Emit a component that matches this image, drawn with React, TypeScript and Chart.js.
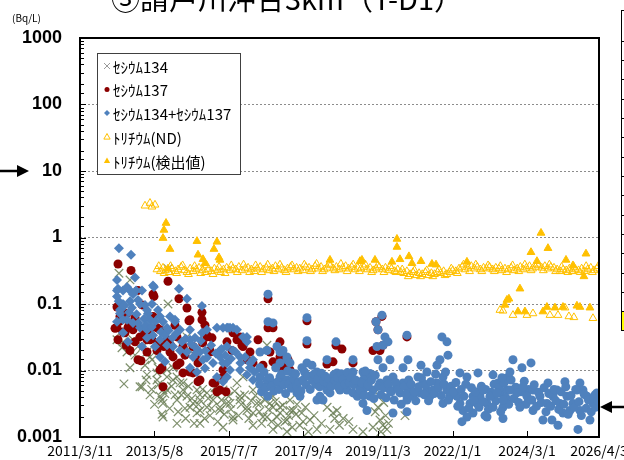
import React, { useEffect, useRef } from 'react';
import { Chart, registerables } from 'chart.js';

Chart.register(...registerables);

const titleText = '③請戸川沖合3km（T-D1）';
const unitText = '(Bq/L)';
const seriesLabels = ['ｾｼｳﾑ134', 'ｾｼｳﾑ137', 'ｾｼｳﾑ134+ｾｼｳﾑ137', 'ﾄﾘﾁｳﾑ(ND)', 'ﾄﾘﾁｳﾑ(検出値)'];

// x = days since 2011/3/11
const xTickDays = [0, 789, 1579, 2369, 3159, 3949, 4739, 5502];
const xTickLabels = ['2011/3/11', '2013/5/8', '2015/7/7', '2017/9/4', '2019/11/3', '2022/1/1', '2024/3/1', '2026/4/3'];
const yTickValues = [0.001, 0.01, 0.1, 1, 10, 100, 1000];
const yTickLabels = ['0.001', '0.01', '0.1', '1', '10', '100', '1000'];

const cs134Points: [number, number][] = [
  [413, 0.29], [530, 0.23], [933, 0.34], [933, 0.1], [392, 0.029], [445, 0.022], [498, 0.019], [530, 0.011],
  [636, 0.0057], [710, 0.0086], [880, 0.002], [869, 0.0036], [880, 0.0051], [816, 0.0072], [1060, 0.0065],
  [1092, 0.0051], [1134, 0.0041], [1198, 0.0032], [1272, 0.0025], [1346, 0.0046], [1410, 0.0036], [1484, 0.0028],
  [1558, 0.0032], [1113, 0.0027], [1240, 0.0051], [1028, 0.008], [424, 0.037], [456, 0.027], [562, 0.029],
  [615, 0.023], [710, 0.019], [763, 0.0145], [827, 0.011], [922, 0.0102], [986, 0.011], [1134, 0.032],
  [1166, 0.02], [466, 0.0063], [869, 0.0022], [1516, 0.0051], [1590, 0.0032], [1664, 0.0065], [1696, 0.0041],
  [1770, 0.0025], [1834, 0.0051], [1876, 0.0032], [1940, 0.002], [2014, 0.0032], [2046, 0.0041], [2088, 0.002],
  [2120, 0.0028], [2173, 0.0017], [2226, 0.0025], [1982, 0.024], [1834, 0.0015], [1622, 0.0018], [2364, 0.0017],
  [2438, 0.0018], [2724, 0.0025], [2650, 0.0013], [2894, 0.0013], [2512, 0.0013], [1728, 0.008], [3180, 0.0046],
  [3159, 0.0028], [3106, 0.0014], [3212, 0.0015], [3254, 0.0013], [3180, 0.0018], [583, 0.017], [689, 0.012],
  [742, 0.0043], [1272, 0.0043], [1378, 0.0021], [1431, 0.0055], [1007, 0.0043],
  [657, 0.0057], [848, 0.0041], [880, 0.0032], [922, 0.0051], [1028, 0.0036], [1166, 0.0028], [1240, 0.0023],
  [1272, 0.0036], [1346, 0.0028], [1484, 0.0025], [1622, 0.002], [1696, 0.0036], [1770, 0.0028], [1834, 0.0023],
  [1908, 0.0032], [1982, 0.002], [2046, 0.0028], [2120, 0.0023], [2194, 0.0018], [2258, 0.0025], [922, 0.008],
  [986, 0.0072], [1092, 0.0065], [1028, 0.0016], [1272, 0.0016], [1516, 0.0014], [2046, 0.0013], [2194, 0.0012],
  [668, 0.023], [742, 0.016], [816, 0.0092], [2226, 0.0036], [2290, 0.0022], [2330, 0.0015], [2390, 0.0028],
  [2682, 0.0023], [2750, 0.0015], [2790, 0.0019], [3159, 0.0043], [3220, 0.0033], [3270, 0.0016], [3240, 0.0021],
  [3445, 0.0021],
  [700, 0.0072], [760, 0.0052], [790, 0.0031], [830, 0.0061], [900, 0.0045], [950, 0.0027], [970, 0.0058],
  [1040, 0.0024], [1075, 0.0043], [1120, 0.0019], [1150, 0.0058], [1185, 0.0038], [1210, 0.0016], [1255, 0.0031],
  [1300, 0.0052], [1320, 0.0019], [1360, 0.0038], [1395, 0.0027], [1440, 0.0044], [1460, 0.0017], [1500, 0.0036],
  [1530, 0.0022], [1575, 0.0041], [1600, 0.0026], [1640, 0.0049], [1680, 0.0021], [1710, 0.0031], [1745, 0.0043],
  [1790, 0.0019], [1815, 0.0035], [1860, 0.0042], [1900, 0.0024], [1925, 0.0016], [1960, 0.0036], [2000, 0.0026],
  [2030, 0.0017], [2070, 0.0034], [2100, 0.0015], [2150, 0.003], [2210, 0.0021], [2250, 0.0014], [2300, 0.0031],
  [2350, 0.0023], [2420, 0.0012], [2480, 0.0021], [2560, 0.0016], [2620, 0.0028], [2700, 0.0019], [2850, 0.0017],
  [3000, 0.0012], [3130, 0.0024], [3190, 0.0012],
];

const cs137Points: [number, number][] = [
  [403, 0.4], [541, 0.32], [933, 0.22], [784, 0.13], [1049, 0.12], [1134, 0.087], [1155, 0.056], [1293, 0.075],
  [392, 0.09], [392, 0.044], [424, 0.065], [477, 0.037], [530, 0.052], [562, 0.041], [636, 0.032], [710, 0.029],
  [530, 0.02], [647, 0.014], [710, 0.019], [774, 0.065], [816, 0.044], [848, 0.0102], [880, 0.0057], [954, 0.019],
  [986, 0.016], [1060, 0.013], [1166, 0.0095], [1251, 0.0068], [1251, 0.013], [1346, 0.034], [1399, 0.031],
  [1431, 0.0065], [1516, 0.0102], [1558, 0.027], [1548, 0.0048], [922, 0.029], [1028, 0.032], [1092, 0.023],
  [1198, 0.023], [445, 0.081], [498, 0.072], [583, 0.062], [657, 0.097], [615, 0.16], [1993, 0.12], [1993, 0.044],
  [2046, 0.044], [2406, 0.056], [2406, 0.025], [2714, 0.024], [2777, 0.021], [2618, 0.0125], [2894, 0.013],
  [2682, 0.0135], [1622, 0.041], [1696, 0.032], [1717, 0.024], [1802, 0.019], [1834, 0.013], [1516, 0.008],
  [1484, 0.0051], [1940, 0.012], [2120, 0.027], [2120, 0.016], [2205, 0.0145], [2152, 0.0102], [2014, 0.019],
  [2226, 0.0102], [2120, 0.0065], [3201, 0.065], [3138, 0.054], [3159, 0.041], [3212, 0.024], [3106, 0.02],
  [3180, 0.02], [3466, 0.032], [488, 0.024], [403, 0.029], [583, 0.027], [742, 0.041], [848, 0.041], [890, 0.023],
  [1007, 0.048], [1113, 0.017], [1325, 0.048], [1378, 0.019], [1611, 0.02], [1887, 0.029],
  [774, 0.14], [1166, 0.058], [1293, 0.058], [371, 0.043], [456, 0.038], [562, 0.043], [615, 0.0145], [742, 0.029],
  [816, 0.02], [869, 0.011], [1028, 0.012], [1092, 0.0092], [1198, 0.0092], [1272, 0.0072], [1410, 0.0065],
  [1452, 0.0048], [1346, 0.032], [1378, 0.02], [1622, 0.037], [1664, 0.029], [1728, 0.023], [1770, 0.0145],
  [2046, 0.0135], [2141, 0.019], [2173, 0.013], [420, 0.055], [470, 0.06], [510, 0.045], [600, 0.05], [680, 0.035],
  [760, 0.03], [830, 0.026], [960, 0.024], [1100, 0.02], [1230, 0.017], [1300, 0.026],
];

const sumPoints: [number, number][] = [
  [413, 0.69], [541, 0.55], [392, 0.23], [403, 0.17], [456, 0.16], [583, 0.25], [530, 0.16], [594, 0.16],
  [657, 0.16], [784, 0.18], [1049, 0.17], [1134, 0.12], [1293, 0.093], [392, 0.13], [456, 0.1], [530, 0.11],
  [615, 0.115], [689, 0.097], [721, 0.072], [763, 0.1], [827, 0.081], [880, 0.054], [954, 0.065], [1007, 0.054],
  [1060, 0.041], [1166, 0.041], [1219, 0.031], [1293, 0.037], [1346, 0.041], [1452, 0.044], [1558, 0.044],
  [424, 0.072], [498, 0.058], [562, 0.052], [636, 0.044], [710, 0.041], [774, 0.034], [848, 0.029], [922, 0.024],
  [986, 0.023], [1060, 0.02], [1134, 0.019], [1198, 0.016], [1272, 0.019], [1346, 0.0155], [1410, 0.013],
  [1484, 0.016], [1558, 0.013], [795, 0.023], [848, 0.016], [901, 0.0135], [1166, 0.011], [1240, 0.0095],
  [1325, 0.0108], [1452, 0.008], [1516, 0.0068], [1558, 0.008], [456, 0.037], [392, 0.054], [509, 0.027],
  [657, 0.023], [710, 0.031],
  [392, 0.16], [498, 0.18], [562, 0.14], [774, 0.19], [636, 0.1], [710, 0.081], [424, 0.081], [456, 0.058],
  [742, 0.058], [848, 0.065], [922, 0.044], [1007, 0.058], [1166, 0.029], [1569, 0.044], [1622, 0.044],
  [1770, 0.032], [1240, 0.019], [1304, 0.0145], [1484, 0.02], [1834, 0.0145], [1908, 0.011], [2120, 0.019],
  [2194, 0.0145], [1982, 0.0057], [2120, 0.0065], [2258, 0.0057], [2300, 0.0046],
  [410, 0.11], [440, 0.085], [470, 0.095], [520, 0.075], [550, 0.088], [600, 0.07], [620, 0.052], [680, 0.06],
  [700, 0.048], [760, 0.045], [800, 0.055], [860, 0.038], [900, 0.034], [940, 0.04], [980, 0.031], [1020, 0.036],
  [1080, 0.027], [1120, 0.03], [1180, 0.025], [1230, 0.022], [1280, 0.028], [1330, 0.02], [1390, 0.024],
  [1440, 0.018], [1500, 0.021], [1540, 0.017], [1600, 0.015], [1650, 0.019], [1700, 0.013], [1750, 0.016],
  [1800, 0.011], [1850, 0.0095],
  [1993, 0.14], [1993, 0.054], [2046, 0.052], [2406, 0.062], [2406, 0.028], [2714, 0.027], [2618, 0.0145],
  [2894, 0.0145], [1516, 0.044], [1590, 0.044], [1664, 0.041], [1728, 0.032], [1770, 0.027], [1558, 0.023],
  [1622, 0.02], [1696, 0.016], [1802, 0.013], [1516, 0.013], [1590, 0.0102], [1696, 0.0102], [1770, 0.0086],
  [1834, 0.0072], [1908, 0.008], [1982, 0.0072], [2046, 0.0065], [2120, 0.008], [2194, 0.0072], [1908, 0.019],
  [1982, 0.02], [2088, 0.023], [2152, 0.02], [2194, 0.016], [2120, 0.013], [2226, 0.013], [2247, 0.0092],
  [2279, 0.0065], [2311, 0.0051], [2332, 0.0041], [2353, 0.011], [2406, 0.013], [2459, 0.012], [2512, 0.0095],
  [2544, 0.008], [2576, 0.0065], [2618, 0.0051], [2544, 0.0041], [2512, 0.0036], [2650, 0.0046], [2724, 0.0065],
  [2756, 0.0051], [2788, 0.0065], [2830, 0.0051], [2894, 0.0046], [2968, 0.0057], [3042, 0.008], [3000, 0.0046],
  [2724, 0.0092], [2830, 0.008], [2894, 0.0095], [3000, 0.0095], [3042, 0.0025], [2576, 0.0036],
  [1905, 0.0062], [1925, 0.0048], [1950, 0.0095], [1968, 0.0055], [1990, 0.0041], [2010, 0.0078], [2030, 0.0058],
  [2055, 0.0049], [2075, 0.011], [2098, 0.0068], [2110, 0.0052], [2135, 0.0088], [2160, 0.0061], [2180, 0.0045],
  [2200, 0.0098], [2215, 0.0063], [2240, 0.0054], [2262, 0.0075], [2285, 0.0089], [2300, 0.0058], [2320, 0.0068],
  [2342, 0.0049], [2365, 0.0072], [2380, 0.0095], [2398, 0.0061], [2420, 0.0083], [2440, 0.0052], [2465, 0.0071],
  [2480, 0.0088], [2500, 0.0062], [2522, 0.0074], [2540, 0.0057], [2560, 0.0091], [2585, 0.0069], [2600, 0.0082],
  [2625, 0.0064], [2640, 0.0075], [2665, 0.0058], [2690, 0.0086], [2705, 0.0071], [2730, 0.0078], [2745, 0.0055],
  [2770, 0.0089], [2790, 0.0074], [2810, 0.0062], [2835, 0.0093], [2855, 0.0066], [2870, 0.0078], [2900, 0.0061],
  [2920, 0.0072], [2940, 0.0041],
  [3201, 0.068], [3138, 0.054], [3159, 0.041], [3233, 0.032], [3265, 0.027], [3212, 0.024], [3148, 0.023],
  [3466, 0.034], [3159, 0.0145], [3286, 0.0145], [3212, 0.011], [3074, 0.009], [3000, 0.0072], [3837, 0.032],
  [3890, 0.027], [3901, 0.017], [3816, 0.0145], [3784, 0.012], [3615, 0.012], [3477, 0.0145], [3424, 0.011],
  [2968, 0.0051], [3042, 0.0057], [3106, 0.0051], [3074, 0.0041], [3000, 0.0032], [3180, 0.0065], [3254, 0.0072],
  [3318, 0.008], [3286, 0.0051], [3360, 0.0057], [3392, 0.0046], [3424, 0.0065], [3498, 0.0051], [3466, 0.0036],
  [3530, 0.0041], [3318, 0.0023], [3466, 0.0024], [3583, 0.008], [3636, 0.0065], [3678, 0.0051], [3710, 0.0041],
  [3742, 0.0051], [3784, 0.0065], [3848, 0.008], [3890, 0.0051], [3922, 0.0041], [3848, 0.0032], [3996, 0.0041],
  [4028, 0.0032], [4060, 0.0025], [4102, 0.002], [4049, 0.0017], [4134, 0.0032], [4166, 0.0041], [4208, 0.0032],
  [4240, 0.0041], [4314, 0.0032], [4378, 0.0041], [4452, 0.0046], [4526, 0.0051], [4484, 0.0028], [4314, 0.002],
  [4028, 0.0092], [4102, 0.008], [4219, 0.0092], [4378, 0.0086], [4431, 0.0065], [4526, 0.0078], [3678, 0.0095],
  [3604, 0.0046], [4166, 0.0023],
  [2985, 0.0065], [3010, 0.0042], [3025, 0.0098], [3055, 0.0061], [3090, 0.0072], [3115, 0.0038], [3130, 0.0085],
  [3165, 0.0058], [3190, 0.0043], [3220, 0.0055], [3245, 0.0039], [3270, 0.0062], [3300, 0.0048], [3330, 0.0036],
  [3345, 0.0066], [3375, 0.0052], [3405, 0.0031], [3440, 0.0058], [3455, 0.0044], [3485, 0.0072], [3510, 0.0062],
  [3545, 0.0048], [3560, 0.0035], [3590, 0.0057], [3620, 0.0078], [3650, 0.0043], [3665, 0.0061], [3695, 0.0035],
  [3720, 0.0068], [3755, 0.0045], [3770, 0.0088], [3800, 0.0055], [3830, 0.0042], [3860, 0.0062], [3875, 0.0095],
  [3905, 0.0036], [3935, 0.0058], [3960, 0.0048],
  [3985, 0.0066], [4005, 0.0029], [4040, 0.0052], [4070, 0.0041], [4090, 0.0062], [4120, 0.0027], [4150, 0.0055],
  [4175, 0.0036], [4195, 0.0048], [4230, 0.0028], [4255, 0.0058], [4280, 0.0034], [4300, 0.0052], [4330, 0.0026],
  [4360, 0.0047], [4390, 0.0062], [4410, 0.0035], [4445, 0.0055], [4460, 0.0024], [4495, 0.0065], [4515, 0.0039],
  [4545, 0.0031], [4570, 0.0072], [4600, 0.0038], [4620, 0.0056], [4650, 0.0033], [4675, 0.0048], [4710, 0.0069],
  [4728, 0.0031], [4755, 0.0052],
  [4590, 0.0145], [4781, 0.013], [4685, 0.011], [4558, 0.0095], [4473, 0.0078], [4961, 0.0065], [5141, 0.0068],
  [5300, 0.0065], [4272, 0.0051], [4346, 0.0041], [4420, 0.0046], [4484, 0.0036], [4558, 0.0051], [4632, 0.0046],
  [4696, 0.0057], [4738, 0.0041], [4802, 0.0051], [4876, 0.0041], [4950, 0.0032], [5014, 0.0041], [5088, 0.0032],
  [5162, 0.0041], [5226, 0.0032], [5300, 0.0025], [5374, 0.0041], [5438, 0.0032], [5480, 0.0046], [4293, 0.0021],
  [4484, 0.0019], [4908, 0.0018], [5003, 0.0018], [5067, 0.0015], [5279, 0.0013], [5406, 0.0018], [5194, 0.0025],
  [5120, 0.0023], [4664, 0.0028], [4802, 0.0025], [4378, 0.0028], [5056, 0.0051], [5268, 0.0051], [5332, 0.0051],
  [5459, 0.0043],
  [4790, 0.0036], [4815, 0.0061], [4840, 0.0029], [4860, 0.0047], [4890, 0.0033], [4920, 0.0055], [4940, 0.0024],
  [4970, 0.0045], [4990, 0.0029], [5025, 0.0052], [5045, 0.0035], [5075, 0.0026], [5100, 0.0048], [5130, 0.0031],
  [5150, 0.0057], [5175, 0.0022], [5205, 0.0042], [5240, 0.0028], [5255, 0.0052], [5290, 0.0034], [5315, 0.0021],
  [5345, 0.0044], [5365, 0.0027], [5390, 0.0036], [5420, 0.0024], [5450, 0.0038], [5470, 0.0028], [5490, 0.0035],
];

const tritiumNdPoints: [number, number][] = [
  [689, 3.0], [742, 3.3], [763, 2.9], [795, 3.1],
  [816, 0.33], [852, 0.31], [880, 0.35], [905, 0.32], [944, 0.3], [975, 0.34], [1012, 0.31], [1040, 0.33],
  [1071, 0.36], [1105, 0.32], [1134, 0.3], [1168, 0.34], [1200, 0.31], [1232, 0.33], [1262, 0.35], [1296, 0.32],
  [1330, 0.3], [1358, 0.33], [1392, 0.31], [1425, 0.34], [1458, 0.32], [1490, 0.3], [1522, 0.33], [1555, 0.35],
  [1588, 0.32], [1620, 0.34], [1652, 0.33], [1684, 0.36], [1716, 0.32], [1750, 0.34], [1782, 0.35], [1815, 0.33],
  [1846, 0.31], [1878, 0.34], [1910, 0.36], [1942, 0.33], [1975, 0.35], [2006, 0.32], [2040, 0.34], [2072, 0.37],
  [2104, 0.33], [2137, 0.35], [2168, 0.32], [2200, 0.34], [2232, 0.36], [2265, 0.33], [2296, 0.35], [2330, 0.34],
  [2362, 0.32], [2394, 0.36], [2428, 0.35], [2460, 0.33], [2492, 0.37], [2524, 0.34], [2556, 0.36], [2590, 0.33],
  [2622, 0.35], [2655, 0.38], [2686, 0.34], [2718, 0.36], [2750, 0.33], [2784, 0.35], [2816, 0.37], [2848, 0.34],
  [2880, 0.36], [2912, 0.33], [2945, 0.35], [2978, 0.34], [3010, 0.36], [3042, 0.33], [3075, 0.35], [3108, 0.32],
  [3140, 0.34], [3172, 0.36], [3205, 0.33], [3238, 0.35], [3270, 0.32], [3302, 0.34], [3335, 0.31], [3368, 0.33],
  [3400, 0.3], [3432, 0.29], [3465, 0.31], [3498, 0.28], [3530, 0.3], [3562, 0.27], [3595, 0.29], [3628, 0.28],
  [3660, 0.3], [3692, 0.27], [3725, 0.29], [3758, 0.28], [3790, 0.3], [3822, 0.29], [3855, 0.31], [3888, 0.28],
  [3920, 0.3], [3952, 0.32], [3985, 0.31], [4018, 0.34], [4050, 0.36], [4082, 0.33], [4115, 0.35], [4148, 0.37],
  [4180, 0.34], [4212, 0.36], [4245, 0.33], [4278, 0.35], [4310, 0.34], [4342, 0.36], [4375, 0.33], [4408, 0.35],
  [4440, 0.34], [4472, 0.32], [4505, 0.34], [4538, 0.33], [4570, 0.35], [4602, 0.32], [4635, 0.34], [4668, 0.36],
  [4700, 0.33], [4732, 0.35], [4765, 0.37], [4798, 0.34], [4830, 0.36], [4862, 0.38], [4895, 0.35], [4928, 0.37],
  [4960, 0.34], [4992, 0.36], [5025, 0.35], [5058, 0.33], [5090, 0.31], [5122, 0.33], [5155, 0.32], [5188, 0.34],
  [5220, 0.31], [5252, 0.33], [5285, 0.32], [5318, 0.34], [5350, 0.31], [5382, 0.33], [5415, 0.35], [5448, 0.32],
  [5480, 0.34],
  [835, 0.37], [892, 0.29], [960, 0.37], [1025, 0.29], [1088, 0.38], [1150, 0.28], [1215, 0.37], [1280, 0.29],
  [1344, 0.38], [1410, 0.28], [1474, 0.36], [1538, 0.29], [1604, 0.38], [1668, 0.3], [1734, 0.39], [1798, 0.3],
  [1862, 0.38], [1926, 0.3], [1990, 0.39], [2056, 0.31], [2120, 0.39], [2184, 0.3], [2248, 0.38], [2312, 0.31],
  [2378, 0.39], [2444, 0.31], [2508, 0.4], [2572, 0.31], [2638, 0.4], [2702, 0.32], [2766, 0.4], [2832, 0.31],
  [2896, 0.39], [2962, 0.31], [3026, 0.39], [3092, 0.3], [3156, 0.38], [3222, 0.3], [3286, 0.37], [3350, 0.3],
  [3416, 0.33], [3480, 0.26], [3546, 0.32], [3610, 0.26], [3676, 0.32], [3740, 0.26], [3806, 0.33], [3870, 0.27],
  [3936, 0.34], [4000, 0.29], [4066, 0.39], [4130, 0.31], [4196, 0.39], [4260, 0.31], [4326, 0.38], [4392, 0.31],
  [4456, 0.37], [4522, 0.3], [4586, 0.38], [4652, 0.31], [4716, 0.39], [4782, 0.32], [4846, 0.4], [4912, 0.32],
  [4976, 0.39], [5042, 0.31], [5106, 0.36], [5172, 0.3], [5236, 0.36], [5302, 0.3], [5366, 0.37], [5432, 0.3],
  [5494, 0.37],
  [4452, 0.081], [4484, 0.079], [4590, 0.068], [4738, 0.068], [4802, 0.072], [4982, 0.068], [5067, 0.068],
  [5141, 0.088], [5183, 0.065], [5236, 0.063], [5438, 0.061],
];

const tritiumDetPoints: [number, number][] = [
  [912, 1.65], [890, 1.3], [880, 0.98], [954, 0.67], [933, 0.34], [1240, 0.88], [1251, 0.55], [1304, 0.47],
  [1325, 0.41], [1452, 0.86], [1420, 0.67], [1473, 0.5], [1484, 0.46], [2650, 0.46], [2989, 0.46], [3360, 0.95],
  [3360, 0.72], [2968, 0.44], [3127, 0.46], [3307, 0.43], [3392, 0.47], [3487, 0.52], [3519, 0.41], [3615, 0.44],
  [3731, 0.4], [3774, 0.39], [4102, 0.43], [4526, 0.115], [4887, 1.17], [4781, 0.6], [4961, 0.69], [5152, 0.46],
  [5364, 0.57], [5342, 0.26], [4664, 0.17], [4547, 0.12], [4505, 0.097], [4950, 0.09], [5035, 0.088], [5120, 0.09],
  [5268, 0.094], [5300, 0.09], [5406, 0.088], [4643, 0.077], [4717, 0.077], [4908, 0.077], [4844, 0.44], [5226, 0.38],
];

const COLORS = {
  cs134: 'rgba(104,124,84,0.85)',
  cs134Legend: '#9a9a9a',
  cs137: '#8B0000',
  sum: '#4F81BD',
  tritium: '#FFC000',
};

const toXY = (pts: [number, number][]) => pts.map(([x, y]) => ({ x, y }));

const isDecade = (v: number) => {
  const l = Math.log10(v);
  return Math.abs(l - Math.round(l)) < 1e-6;
};

function drawMarker(ctx: CanvasRenderingContext2D, kind: string, x: number, y: number, r: number, color: string, fill: boolean) {
  ctx.save();
  ctx.strokeStyle = color;
  ctx.fillStyle = color;
  ctx.lineWidth = 1;
  ctx.beginPath();
  if (kind === 'cross') {
    ctx.moveTo(x - r, y - r); ctx.lineTo(x + r, y + r);
    ctx.moveTo(x + r, y - r); ctx.lineTo(x - r, y + r);
    ctx.stroke();
  } else if (kind === 'circle') {
    ctx.arc(x, y, r, 0, Math.PI * 2);
    ctx.fill();
  } else if (kind === 'diamond') {
    ctx.moveTo(x, y - r); ctx.lineTo(x + r, y); ctx.lineTo(x, y + r); ctx.lineTo(x - r, y); ctx.closePath();
    ctx.fill();
  } else if (kind === 'triangle') {
    ctx.moveTo(x, y - r); ctx.lineTo(x + r * 0.9, y + r * 0.6); ctx.lineTo(x - r * 0.9, y + r * 0.6); ctx.closePath();
    if (fill) ctx.fill(); else ctx.stroke();
  }
  ctx.restore();
}

const decorPlugin = {
  id: 'decor',
  afterDraw(chart: any) {
    const { ctx, chartArea: a, scales } = chart;
    const ys = scales.y;
    const xs = scales.x;
    ctx.save();
    ctx.strokeStyle = '#000';
    ctx.lineWidth = 1;
    ys.ticks.forEach((t: any) => {
      const py = Math.round(ys.getPixelForValue(t.value)) + 0.5;
      const len = isDecade(t.value) ? 6 : 4;
      ctx.beginPath(); ctx.moveTo(a.left, py); ctx.lineTo(a.left + len, py); ctx.stroke();
    });
    xs.ticks.forEach((t: any) => {
      const px = Math.round(xs.getPixelForValue(t.value)) + 0.5;
      ctx.beginPath(); ctx.moveTo(px, a.bottom); ctx.lineTo(px, a.bottom - 6); ctx.stroke();
    });
    ctx.lineWidth = 2;
    ctx.strokeStyle = '#000';
    ctx.strokeRect(a.left, a.top, a.right - a.left, a.bottom - a.top);

    // title (cut at the top)
    ctx.fillStyle = '#000';
    ctx.font = '29px "Noto Sans CJK JP"';
    ctx.textAlign = 'center';
    ctx.textBaseline = 'alphabetic';
    ctx.fillText(titleText, 287, 10);

    // unit
    ctx.font = '10px "Noto Sans CJK JP"';
    ctx.textAlign = 'left';
    ctx.textBaseline = 'middle';
    ctx.fillText(unitText, 12, 18);

    // arrows
    ctx.fillStyle = '#000';
    ctx.strokeStyle = '#000';
    ctx.lineWidth = 2.5;
    const ay = ys.getPixelForValue(10);
    ctx.beginPath(); ctx.moveTo(0, ay); ctx.lineTo(20, ay); ctx.stroke();
    ctx.beginPath(); ctx.moveTo(29, ay); ctx.lineTo(17, ay - 6); ctx.lineTo(17, ay + 6); ctx.closePath(); ctx.fill();
    const by = 407;
    ctx.beginPath(); ctx.moveTo(610, by); ctx.lineTo(624, by); ctx.stroke();
    ctx.beginPath(); ctx.moveTo(600, by); ctx.lineTo(612, by - 6); ctx.lineTo(612, by + 6); ctx.closePath(); ctx.fill();

    // cut-off table on the right
    ctx.lineWidth = 1;
    ctx.fillStyle = '#ffff00';
    ctx.fillRect(622, 312, 2, 18);
    ctx.strokeStyle = '#000';
    ctx.beginPath(); ctx.moveTo(621.5, 10); ctx.lineTo(621.5, 330); ctx.stroke();
    [10, 41, 60, 79, 99, 118, 137, 157, 176, 195, 215, 234, 253, 273, 292, 311, 330].forEach((yy) => {
      ctx.beginPath(); ctx.moveTo(621, yy + 0.5); ctx.lineTo(624, yy + 0.5); ctx.stroke();
    });

    // legend
    const lx = 97, ly = 53, lw = 143, lh = 121;
    ctx.fillStyle = '#fff';
    ctx.fillRect(lx, ly, lw, lh);
    ctx.strokeStyle = '#404040';
    ctx.strokeRect(lx + 0.5, ly + 0.5, lw, lh);
    const rows = [66, 89.5, 113, 137, 161];
    const markers: [string, string, boolean, number][] = [
      ['cross', COLORS.cs134Legend, false, 3],
      ['circle', COLORS.cs137, true, 2.5],
      ['diamond', COLORS.sum, true, 3],
      ['triangle', COLORS.tritium, false, 3.5],
      ['triangle', COLORS.tritium, true, 3.5],
    ];
    ctx.font = '15px "Noto Sans CJK JP"';
    ctx.textAlign = 'left';
    ctx.textBaseline = 'middle';
    seriesLabels.forEach((lab, i) => {
      const [k, c, f, r] = markers[i];
      drawMarker(ctx, k, 107, rows[i], r, c, f);
      ctx.fillStyle = '#000';
      ctx.fillText(lab, 113, rows[i] + 1);
    });
    ctx.restore();
  },
};

export default function App() {
  const ref = useRef<HTMLCanvasElement | null>(null);
  useEffect(() => {
    if (!ref.current) return;
    const chart = new Chart(ref.current, {
      type: 'scatter',
      data: {
        datasets: [
          {
            label: seriesLabels[0],
            data: toXY(cs134Points),
            pointStyle: 'crossRot',
            pointRadius: 6,
            borderColor: COLORS.cs134,
            backgroundColor: COLORS.cs134,
            borderWidth: 1.2,
            order: 5,
          },
          {
            label: seriesLabels[1],
            data: toXY(cs137Points),
            pointStyle: 'circle',
            pointRadius: 4.5,
            borderColor: COLORS.cs137,
            backgroundColor: COLORS.cs137,
            borderWidth: 0,
            order: 4,
          },
          {
            label: seriesLabels[2],
            data: toXY(sumPoints),
            pointStyle: (c: any) => (c.raw && c.raw.x < 1900 ? 'rectRot' : 'circle'),
            pointRadius: (c: any) => (c.raw && c.raw.x < 1900 ? 5 : 4.5),
            borderColor: COLORS.sum,
            backgroundColor: COLORS.sum,
            borderWidth: 0,
            order: 3,
          },
          {
            label: seriesLabels[3],
            data: toXY(tritiumNdPoints),
            pointStyle: 'triangle',
            pointRadius: 4.5,
            borderColor: COLORS.tritium,
            backgroundColor: 'rgba(255,255,255,0)',
            borderWidth: 1,
            order: 2,
          },
          {
            label: seriesLabels[4],
            data: toXY(tritiumDetPoints),
            pointStyle: 'triangle',
            pointRadius: 4.5,
            borderColor: COLORS.tritium,
            backgroundColor: COLORS.tritium,
            borderWidth: 1,
            order: 1,
          },
        ],
      },
      options: {
        responsive: false,
        animation: false,
        devicePixelRatio: 1,
        events: [],
        layout: { padding: { left: 0, right: 25, top: 38, bottom: 0 } },
        plugins: {
          legend: { display: false },
          tooltip: { enabled: false },
          title: { display: false },
        },
        scales: {
          x: {
            type: 'linear',
            min: 0,
            max: 5502,
            afterBuildTicks: (s: any) => {
              s.ticks = xTickDays.map((v) => ({ value: v }));
            },
            afterFit: (s: any) => {
              s.height = 23;
              s.paddingLeft = 0;
              s.paddingRight = 0;
            },
            grid: { display: false, drawTicks: false },
            border: { display: false },
            ticks: {
              autoSkip: false,
              maxRotation: 0,
              minRotation: 0,
              padding: 5,
              color: '#000',
              font: { family: '"Noto Sans CJK JP"', size: 14 },
              callback: (_v: any, i: number) => xTickLabels[i],
            },
          },
          y: {
            type: 'logarithmic',
            min: 0.001,
            max: 1000,
            afterFit: (s: any) => {
              s.width = 80;
              s.paddingTop = 0;
              s.paddingBottom = 0;
            },
            grid: {
              drawTicks: false,
              lineWidth: 1,
              color: (c: any) => {
                const v = c.tick ? c.tick.value : 0;
                return v > 0.001 && v < 1000 && isDecade(v) ? '#8c8c8c' : 'rgba(0,0,0,0)';
              },
            },
            border: { display: false, dash: [2, 2] },
            ticks: {
              autoSkip: false,
              padding: 18,
              color: '#000',
              font: { family: '"Liberation Sans"', size: 18, weight: 'bold' },
              callback: (v: any) => {
                const i = yTickValues.findIndex((t) => Math.abs(Math.log10(t) - Math.log10(Number(v))) < 1e-6);
                return i >= 0 ? yTickLabels[i] : '';
              },
            },
          },
        },
      },
      plugins: [decorPlugin],
    } as any);
    return () => chart.destroy();
  }, []);

  return (
    <div style={{ position: 'absolute', left: 0, top: 0, width: 624, height: 460, background: '#fff' }}>
      <canvas ref={ref} width={624} height={460} style={{ display: 'block' }} />
    </div>
  );
}
